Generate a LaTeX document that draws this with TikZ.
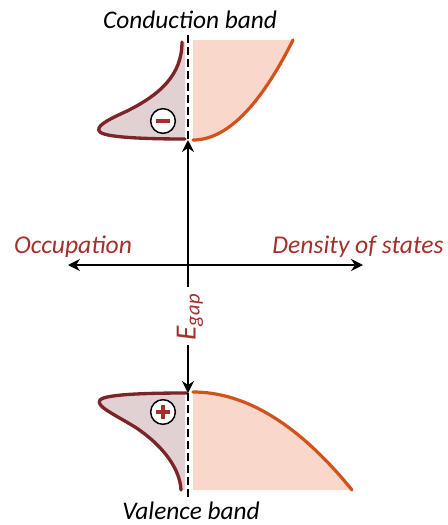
\documentclass[tikz,border=0pt]{standalone}
\usepackage{fontspec}
\setmainfont{Carlito}
\usetikzlibrary{arrows.meta}
\definecolor{maroon}{HTML}{7B2528}
\definecolor{mauvefill}{HTML}{E2D1D2}
\definecolor{orangeline}{HTML}{D2521E}
\definecolor{peachfill}{HTML}{F9D8CB}
\definecolor{labelred}{HTML}{A3302B}
\tikzset{
  axisarrow/.style={line width=2.1pt, -{Stealth[length=9pt,width=9pt,inset=3pt]}},
  dashaxis/.style={line width=1.2pt, dash pattern=on 6pt off 3pt},
  occline/.style={line width=2.5pt, color=maroon, line cap=round},
  dosline/.style={line width=2.4pt, color=orangeline, line cap=round},
  chargecirc/.style={circle, draw=black, fill=white, line width=1.1pt, minimum size=18.5pt, inner sep=0pt},
  chargesign/.style={line width=2.4pt, color=labelred},
  redlabel/.style={text=labelred, font=\fontsize{19.2}{22}\selectfont\itshape, inner sep=0pt},
  blacklabel/.style={text=black, font=\fontsize{19}{22}\selectfont\itshape, inner sep=0pt}
}
\begin{document}
\begin{tikzpicture}[x=0.75pt,y=-0.75pt]
\useasboundingbox (0,0) rectangle (448,525);

% named coordinates
\coordinate (dtop1) at (188,35);
\coordinate (cbmin) at (188,140);
\coordinate (vbot) at (188,287);
\coordinate (vresume) at (188,345);
\coordinate (vbmax) at (188,393);
\coordinate (dbot2) at (188,497);
\coordinate (center) at (188,265);
\coordinate (leftend) at (68,265);
\coordinate (rightend) at (363,265);

% conduction band fills
\fill[mauvefill] (182,42) .. controls (182,75) and (160,95) .. (125,112)
  .. controls (105,121) and (95,127) .. (100,132)
  .. controls (105,137) and (140,139) .. (185,139) -- (185,42) -- cycle;
\fill[peachfill] (193,140) .. controls (226.3,140) and (259.7,106.7) .. (293,40) -- (193,40) -- cycle;
% valence band fills
\fill[mauvefill] (187,393) .. controls (150,393) and (105,394) .. (100,400)
  .. controls (96,406) and (110,412) .. (135,427)
  .. controls (165,447) and (180,470) .. (181,490) -- (185,490) -- (185,393) -- cycle;
\fill[peachfill] (193,392) .. controls (246,392) and (299,424.7) .. (352,490) -- (193,490) -- cycle;

% curves
\draw[occline] (182,42) .. controls (182,75) and (160,95) .. (125,112)
  .. controls (105,121) and (95,127) .. (100,132)
  .. controls (105,137) and (140,139) .. (185,139);
\draw[dosline] (193,140) .. controls (226.3,140) and (259.7,106.7) .. (293,40);
\draw[occline] (187,393) .. controls (150,393) and (105,394) .. (100,400)
  .. controls (96,406) and (110,412) .. (135,427)
  .. controls (165,447) and (180,470) .. (181,490);
\draw[dosline] (193,392) .. controls (246,392) and (299,424.7) .. (352,490);

% dashed axis parts
\draw[dashaxis] (dtop1) -- (cbmin);
\draw[dashaxis] (vbmax) -- (dbot2);

% axes
\draw[axisarrow] (center) -- (leftend);
\draw[axisarrow] (center) -- (rightend);
\draw[axisarrow] (vbot) -- (cbmin);
\draw[axisarrow] (vresume) -- (vbmax);

% charge circles
\node[chargecirc] (minus) at (163,121) {};
\draw[chargesign] ([xshift=-5.5pt]minus.center) -- ([xshift=5.5pt]minus.center);
\node[chargecirc] (plus) at (163,412) {};
\draw[chargesign] ([xshift=-5.5pt]plus.center) -- ([xshift=5.5pt]plus.center);
\draw[chargesign] ([yshift=-5.5pt]plus.center) -- ([yshift=5.5pt]plus.center);

% labels
\node[blacklabel, anchor=base] (cb) at (190,28) {Conduction band};
\node[blacklabel, anchor=base] (vb) at (191,519) {Valence band};
\node[redlabel, anchor=base] (occ) at (73,253) {Occupation};
\node[redlabel, anchor=base] (dos) at (358,253) {Density of states};
\node[redlabel, rotate=90, font=\fontsize{22}{24}\selectfont\itshape] (egap) at (190,317) {E\textsubscript{gap}};
\end{tikzpicture}
\end{document}
